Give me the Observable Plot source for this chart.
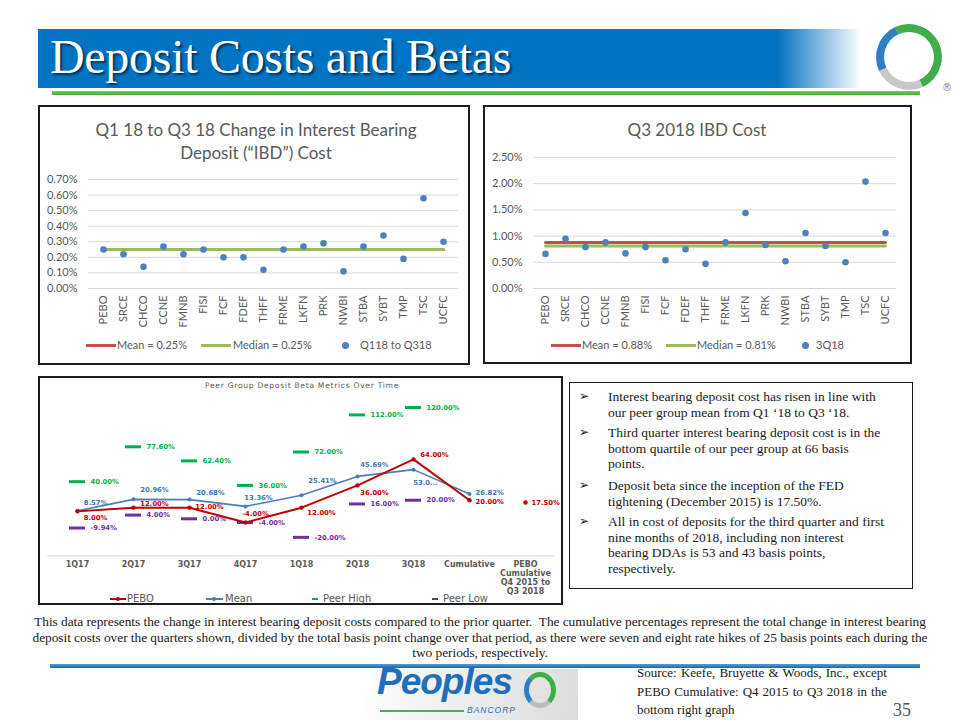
<!DOCTYPE html>
<html><head><meta charset="utf-8">
<script src="https://cdn.jsdelivr.net/npm/d3@7"></script>
<script src="https://cdn.jsdelivr.net/npm/@observablehq/plot@0.6"></script>
<style>
html,body{margin:0;padding:0;background:#fff}
#page{position:relative;width:960px;height:720px;overflow:hidden;background:#fff;font-family:Lato,sans-serif}
.a{position:absolute}
.box{position:absolute;border:2px solid #1c1c1c;box-sizing:border-box;background:#fff}
.ct{position:absolute;font-family:Lato,sans-serif;font-size:17px;color:#595959;text-align:center;line-height:23px;white-space:nowrap}
.lg{position:absolute;font-family:Lato,sans-serif;font-size:11px;color:#595959;white-space:nowrap;line-height:12px}
.sw{position:absolute;height:3px}
.ld{position:absolute;width:7px;height:7px;border-radius:50%;background:#4F81BD}
.serif{font-family:"Liberation Serif","Times New Roman",serif;color:#1a1a1a}
.bl{position:absolute;font-family:"Liberation Serif",serif;font-size:13.5px;line-height:15.7px;white-space:nowrap;color:#1a1a1a}
.arrow{position:absolute;font-family:"DejaVu Sans",sans-serif;font-size:12px;line-height:15.7px;color:#1a1a1a}
.bleg{position:absolute;font-family:"DejaVu Sans",sans-serif;font-size:10px;color:#595959;white-space:nowrap;line-height:12px}
.src{width:250px;text-align:justify;text-align-last:justify;white-space:nowrap;height:18.5px}
svg{display:block}
</style></head>
<body><div id="page">

<!-- header banner -->
<div class="a" style="left:38px;top:29px;width:840px;height:59px;background:linear-gradient(to right,#0272C2 0%,#0272C2 88%,#ffffff 98%)"></div>
<div class="a serif" style="left:50px;top:29px;font-size:48px;line-height:56px;color:#fff;letter-spacing:-0.3px;text-shadow:2px 2px 2px rgba(0,0,0,0.55);white-space:nowrap">Deposit Costs and Betas</div>
<div class="a" style="left:52px;top:91px;width:868px;height:4px;background:linear-gradient(#7cc66a,#4ea83c)"></div>
<div class="a" style="left:876px;top:24px;width:50px;height:50px;border-radius:50%;border:8px solid;border-color:#3fae49 #3fae49 #c8c8c8 #2f7fc6;transform:rotate(20deg)"></div>
<div class="a" style="left:942px;top:82px;font-size:10px;color:#888;font-family:'DejaVu Sans'">®</div>

<!-- top-left chart -->
<div class="box" style="left:38px;top:105px;width:432px;height:260px"></div>
<div id="c1" class="a" style="left:38px;top:105px"></div>
<div class="ct" style="left:38px;top:118px;width:436px">Q1 18 to Q3 18 Change in Interest Bearing<br>Deposit (“IBD”) Cost</div>
<div class="sw" style="left:86px;top:344px;width:30px;background:#C0504D"></div>
<div class="lg" style="left:117px;top:339px">Mean = 0.25%</div>
<div class="sw" style="left:201px;top:344px;width:30px;background:#9BBB59"></div>
<div class="lg" style="left:233px;top:339px">Median = 0.25%</div>
<div class="ld" style="left:342px;top:342px"></div>
<div class="lg" style="left:360px;top:339px">Q118 to Q318</div>

<!-- top-right chart -->
<div class="box" style="left:483px;top:105px;width:429px;height:259px"></div>
<div id="c2" class="a" style="left:483px;top:105px"></div>
<div class="ct" style="left:483px;top:118px;width:428px">Q3 2018 IBD Cost</div>
<div class="sw" style="left:551px;top:344px;width:30px;background:#C0504D"></div>
<div class="lg" style="left:582px;top:339px">Mean = 0.88%</div>
<div class="sw" style="left:666px;top:344px;width:30px;background:#9BBB59"></div>
<div class="lg" style="left:697px;top:339px">Median = 0.81%</div>
<div class="ld" style="left:802px;top:342px"></div>
<div class="lg" style="left:816px;top:339px">3Q18</div>

<!-- bottom-left chart -->
<div class="box" style="left:38px;top:376px;width:525px;height:229px"></div>
<div id="c3" class="a" style="left:38px;top:376px"></div>
<div class="a" style="left:38px;top:381px;width:528px;text-align:center;font-family:'DejaVu Sans',sans-serif;font-size:7.6px;letter-spacing:0.7px;color:#595959;white-space:nowrap">Peer Group Deposit Beta Metrics Over Time</div>
<div class="sw" style="left:110px;top:598px;width:16px;height:2px;background:#C00000"></div>
<div class="a" style="left:116px;top:597px;width:4px;height:4px;border-radius:50%;background:#C00000"></div>
<div class="bleg" style="left:127px;top:593px">PEBO</div>
<div class="sw" style="left:206px;top:598px;width:17px;height:2px;background:#4A7EBB"></div>
<div class="a" style="left:212px;top:597px;width:4px;height:4px;border-radius:50%;background:#4A7EBB"></div>
<div class="bleg" style="left:225px;top:593px">Mean</div>
<div class="sw" style="left:312px;top:598px;width:6px;height:2px;background:#00B050"></div>
<div class="bleg" style="left:323px;top:593px">Peer High</div>
<div class="sw" style="left:432px;top:598px;width:6px;height:2px;background:#7030A0"></div>
<div class="bleg" style="left:443px;top:593px">Peer Low</div>

<!-- text box -->
<div class="box" style="left:569px;top:382px;width:344px;height:207px;border-width:1.5px"></div>
<div class="arrow" style="left:579px;top:389px">➢</div>
<div class="bl" style="left:608px;top:389px">Interest bearing deposit cost has risen in line with<br>our peer group mean from Q1 ‘18 to Q3 ‘18.</div>
<div class="arrow" style="left:579px;top:425px">➢</div>
<div class="bl" style="left:608px;top:425px">Third quarter interest bearing deposit cost is in the<br>bottom quartile of our peer group at 66 basis<br>points.</div>
<div class="arrow" style="left:579px;top:478px">➢</div>
<div class="bl" style="left:608px;top:478px">Deposit beta since the inception of the FED<br>tightening (December 2015) is 17.50%.</div>
<div class="arrow" style="left:579px;top:514px">➢</div>
<div class="bl" style="left:608px;top:514px">All in cost of deposits for the third quarter and first<br>nine months of 2018, including non interest<br>bearing DDAs is 53 and 43 basis points,<br>respectively.</div>

<!-- footnote -->
<div class="a serif" style="left:0;top:614px;width:960px;text-align:center;font-size:13.4px;line-height:15.5px;white-space:nowrap;letter-spacing:-0.05px">This data represents the change in interest bearing deposit costs compared to the prior quarter.&nbsp; The cumulative percentages represent the total change in interest bearing<br>deposit costs over the quarters shown, divided by the total basis point change over that period, as there were seven and eight rate hikes of 25 basis points each during the<br>two periods, respectively.</div>
<div class="a" style="left:50px;top:664px;width:870px;height:4px;background:linear-gradient(#5b9bd5,#1f64ad)"></div>

<!-- bottom logo -->
<div class="a" style="left:358px;top:669px;width:220px;height:51px;background:linear-gradient(100deg,#ffffff 0%,#f4f4f4 30%,#dcdcdc 100%);clip-path:polygon(8% 0,100% 0,100% 100%,0 100%)"></div>
<div class="a" style="left:377px;top:666px;font-family:'Liberation Sans',sans-serif;font-weight:bold;font-style:italic;font-size:37px;line-height:32px;color:#1f6fbe;letter-spacing:-1px;white-space:nowrap">Peoples</div>
<div class="a" style="left:380px;top:710px;width:84px;height:2px;background:#4caf50"></div>
<div class="a" style="left:467px;top:706px;font-family:'Liberation Sans',sans-serif;font-style:italic;font-size:8.5px;line-height:9px;letter-spacing:1px;color:#1f6fbe">BANCORP</div>
<div class="a" style="left:524px;top:672px;width:22px;height:26px;border-radius:50%;border:5px solid;border-color:#3fae49 #3fae49 #bdbdbd #2f7fc6"></div>

<div class="a serif" style="left:637px;top:664px;font-size:13px;line-height:18.5px">
  <div class="src">Source: Keefe, Bruyette &amp; Woods, Inc., except</div>
  <div class="src">PEBO Cumulative: Q4 2015 to Q3 2018 in the</div>
  <div class="src" style="text-align-last:left">bottom right graph</div>
</div>
<div class="a" style="left:893px;top:699px;font-family:'Liberation Serif',serif;font-size:18px;line-height:22px;color:#595959">35</div>

</div>
<script>
// ---------- data ----------
const banks = ["PEBO","SRCE","CHCO","CCNE","FMNB","FISI","FCF","FDEF","THFF","FRME","LKFN","PRK","NWBI","STBA","SYBT","TMP","TSC","UCFC"];
const changeQ1toQ3 = [0.25,0.22,0.14,0.27,0.22,0.25,0.20,0.20,0.12,0.25,0.27,0.29,0.11,0.27,0.34,0.19,0.58,0.30];
const changeMean = 0.25;
const changeMedian = 0.25;
const changeTicks = [0,0.1,0.2,0.3,0.4,0.5,0.6,0.7];
const cost3Q18 = [0.66,0.95,0.79,0.88,0.67,0.79,0.54,0.75,0.47,0.88,1.44,0.83,0.52,1.06,0.81,0.50,2.04,1.06];
const costMean = 0.88;
const costMedian = 0.81;
const costTicks = [0,0.5,1,1.5,2,2.5];

const quarters = ["1Q17","2Q17","3Q17","4Q17","1Q18","2Q18","3Q18","Cumulative","PEBO\nCumulative\nQ4 2015 to\nQ3 2018"];
const peboBeta = [8,12,12,-4,12,36,64,20];
const peboCumulative = 17.5;
const meanBeta = [8.57,20.96,20.68,13.36,25.41,45.69,53.0,26.82];
const meanBetaLabels = ["8.57%","20.96%","20.68%","13.36%","25.41%","45.69%","53.0...","26.82%"];
const peerHigh = [40,77.6,62.4,36,72,112,120];
const peerLow = [-9.94,4,0,-4,-20,16,20];

// label placement (dx, dy in px; anchor) — style only
const meanLabelPos = [[18,-8,"middle"],[21,-10,"middle"],[21,-7,"middle"],[13,-9,"middle"],[21,-14,"middle"],[17,-12,"middle"],[12,13,"middle"],[6,-1,"start"]];
const peboLabelPos = [[18,6,"middle"],[21,-4,"middle"],[20,-1,"middle"],[10,-9,"middle"],[20,5,"middle"],[17,7,"middle"],[21,-5,"middle"],[6,2,"start"]];

const pct2 = d => d.toFixed(2) + "%";

function topChart({values, mean, median, ticks, width, height, mt, mb, mr}) {
  const data = banks.map((b, i) => ({bank: b, value: values[i]}));
  return Plot.plot({
    width, height, marginLeft: 50, marginRight: mr, marginTop: mt, marginBottom: mb,
    style: {fontFamily: "Lato, sans-serif", fontSize: "11px", color: "#595959", background: "transparent"},
    x: {type: "point", domain: banks, padding: 0.5},
    y: {domain: [0, ticks[ticks.length - 1]]},
    marks: [
      Plot.gridY(ticks, {stroke: "#d9d9d9", strokeOpacity: 1}),
      Plot.axisY({ticks, tickSize: 0, tickPadding: 11, tickFormat: pct2, label: null}),
      Plot.axisX({tickSize: 0, tickPadding: 7, tickRotate: -90, label: null}),
      Plot.line(banks, {x: d => d, y: () => mean, stroke: "#C0504D", strokeWidth: 3}),
      Plot.line(banks, {x: d => d, y: () => median, stroke: "#9BBB59", strokeWidth: 3}),
      Plot.dot(data, {x: "bank", y: "value", r: 3.3, fill: "#4F81BD"})
    ]
  });
}

document.getElementById("c1").append(topChart({values: changeQ1toQ3, mean: changeMean, median: changeMedian, ticks: changeTicks, width: 432, height: 260, mt: 74, mb: 77, mr: 12}));
document.getElementById("c2").append(topChart({values: cost3Q18, mean: costMean, median: costMedian, ticks: costTicks, width: 429, height: 259, mt: 52, mb: 76, mr: 16}));

// ---------- beta chart ----------
const peboData = peboBeta.map((v, i) => ({q: quarters[i], v}));
const meanData = meanBeta.map((v, i) => ({q: quarters[i], v}));
const highData = peerHigh.map((v, i) => ({q: quarters[i], v}));
const lowData = peerLow.map((v, i) => ({q: quarters[i], v}));
const lbl = {fontFamily: "DejaVu Sans, sans-serif", fontSize: 6.8, fontWeight: "bold"};

const betaMarks = [
  Plot.ruleY([-40], {stroke: "#d9d9d9"}),
  Plot.axisX({tickSize: 0, tickPadding: 5, label: null, fontWeight: "bold", fontSize: 8, lineHeight: 1.12}),
  Plot.tickY(highData, {x: "q", y: "v", stroke: "#00B050", strokeWidth: 3, insetLeft: 20, insetRight: 20}),
  Plot.tickY(lowData, {x: "q", y: "v", stroke: "#7030A0", strokeWidth: 3, insetLeft: 20, insetRight: 20}),
  Plot.text(highData, {x: "q", y: "v", text: d => pct2(d.v), dx: 13, textAnchor: "start", fill: "#00B050", ...lbl}),
  Plot.text(lowData, {x: "q", y: "v", text: d => pct2(d.v), dx: 13, textAnchor: "start", fill: "#7030A0", ...lbl}),
  Plot.line(meanData, {x: "q", y: "v", stroke: "#4A7EBB", strokeWidth: 1.6}),
  Plot.dot(meanData, {x: "q", y: "v", r: 2, fill: "#4A7EBB"}),
  Plot.line(peboData, {x: "q", y: "v", stroke: "#C00000", strokeWidth: 2}),
  Plot.dot(peboData, {x: "q", y: "v", r: 2.2, fill: "#C00000"}),
  Plot.dot([{q: quarters[8], v: peboCumulative}], {x: "q", y: "v", r: 2.2, fill: "#C00000"}),
  Plot.text([{q: quarters[8], v: peboCumulative}], {x: "q", y: "v", text: d => pct2(d.v), dx: 6, textAnchor: "start", fill: "#C00000", ...lbl}),
  ...meanData.map((d, i) => Plot.text([d], {x: "q", y: "v", text: () => meanBetaLabels[i], dx: meanLabelPos[i][0], dy: meanLabelPos[i][1], textAnchor: meanLabelPos[i][2], fill: "#3E78B8", ...lbl})),
  ...peboData.map((d, i) => Plot.text([d], {x: "q", y: "v", text: x => pct2(x.v), dx: peboLabelPos[i][0], dy: peboLabelPos[i][1], textAnchor: peboLabelPos[i][2], fill: "#C00000", ...lbl}))
];

document.getElementById("c3").append(Plot.plot({
  width: 525, height: 228, marginLeft: 8.75, marginRight: 7.75, marginTop: 21.7, marginBottom: 48.6,
  style: {fontFamily: "DejaVu Sans, sans-serif", fontSize: "8px", color: "#595959", background: "transparent"},
  x: {type: "band", domain: quarters, padding: 0},
  y: {domain: [-40, 130], axis: null},
  marks: betaMarks
}));
</script>
</body></html>
